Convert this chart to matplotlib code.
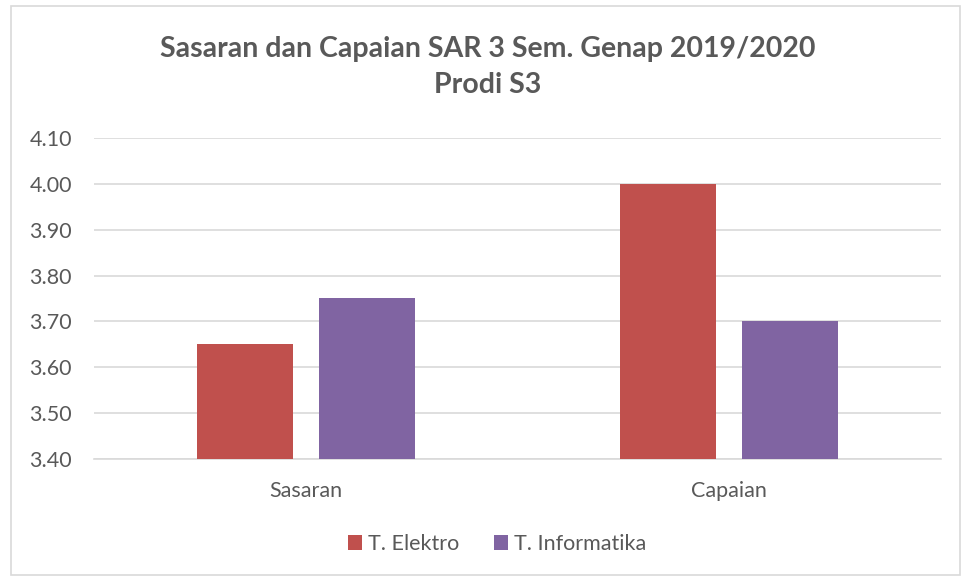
import numpy as np
import matplotlib.pyplot as plt
from matplotlib.patches import Rectangle

# data
categories = ["Sasaran", "Capaian"]
elektro = [3.65, 4.00]
informatika = [3.75, 3.70]
series_names = ["T. Elektro", "T. Informatika"]
yticks = [3.40, 3.50, 3.60, 3.70, 3.80, 3.90, 4.00, 4.10]

RED = "#C0504D"
PURPLE = "#8064A2"
TEXT = "#595959"
GRID = "#D9D9D9"

plt.rcParams['font.family'] = ['Lato', 'DejaVu Sans']

fig = plt.figure(figsize=(9.64, 5.77), dpi=100)
fig.patch.set_facecolor("white")

# outer chart border like the office chart frame
fig.add_artist(Rectangle((11 / 964, 2 / 577), 949 / 964, 569 / 577,
                         transform=fig.transFigure, fill=False,
                         edgecolor="#D9D9D9", linewidth=1.2))

ax = fig.add_axes([94 / 964, 1 - 459 / 577, 847 / 964, (459 - 138) / 577])

x = np.arange(len(categories))
width = 0.227
gap = 0.061
ax.bar(x - (width + gap) / 2, np.array(elektro) - 3.4, width, bottom=3.4,
       color=RED, label=series_names[0], zorder=3)
ax.bar(x + (width + gap) / 2, np.array(informatika) - 3.4, width, bottom=3.4,
       color=PURPLE, label=series_names[1], zorder=3)

ax.set_xlim(-0.5, len(categories) - 0.5)
ax.set_ylim(3.40, 4.10)
ax.set_yticks(yticks)
ax.set_yticklabels([f"{v:.2f}" for v in yticks])
ax.set_xticks(x)
ax.set_xticklabels(categories)
ax.tick_params(axis="both", length=0, colors=TEXT, labelsize=15.5)
ax.tick_params(axis="y", pad=16)
ax.tick_params(axis="x", pad=16)
ax.grid(axis="y", color=GRID, linewidth=1.2, zorder=0)
for s in ["top", "right", "left"]:
    ax.spines[s].set_visible(False)
ax.spines["bottom"].set_color(GRID)
ax.spines["bottom"].set_linewidth(1.2)

fig.text(488 / 964, 1 - 67 / 577,
         "Sasaran dan Capaian SAR 3 Sem. Genap 2019/2020\nProdi S3",
         ha="center", va="center", fontsize=20.5, fontweight="bold",
         color=TEXT, linespacing=1.45)

leg = fig.legend(loc="center", bbox_to_anchor=(497 / 964, 1 - 544 / 577),
                 ncol=2, frameon=False, fontsize=15.5, handlelength=0.65,
                 handleheight=0.65, handletextpad=0.3, columnspacing=1.6)
for t in leg.get_texts():
    t.set_color(TEXT)

fig.savefig("out.png", dpi=100)
